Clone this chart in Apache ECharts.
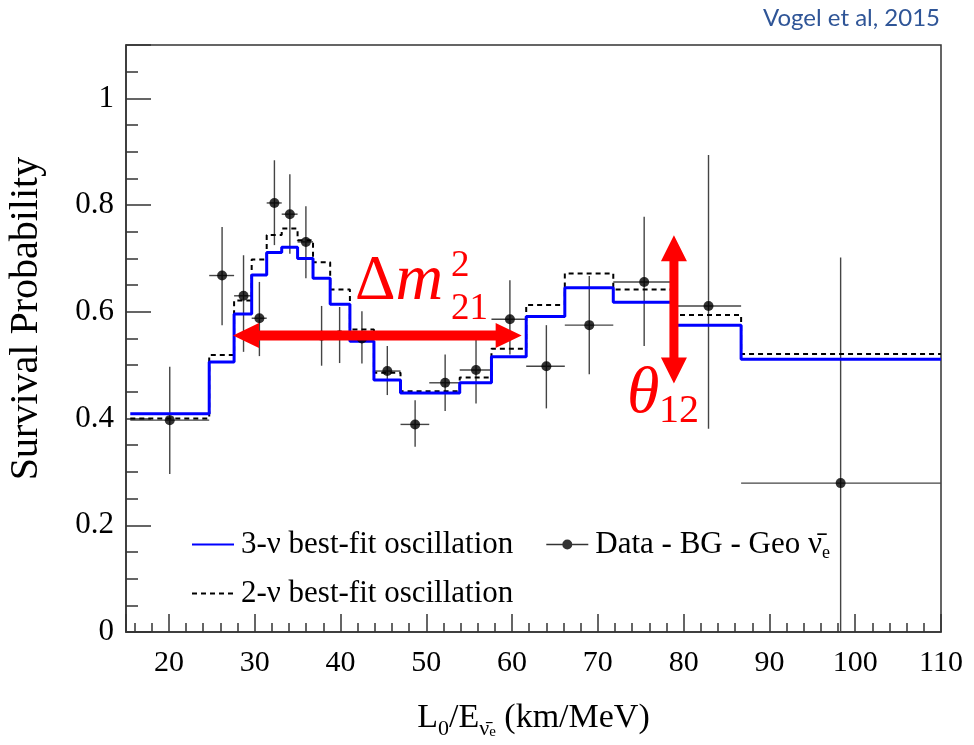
<!DOCTYPE html>
<html><head><meta charset="utf-8">
<script src="https://cdn.jsdelivr.net/npm/echarts@6/dist/echarts.min.js"></script>
<style>html,body{margin:0;padding:0;background:#fff}#c{width:974px;height:745px}</style>
</head><body><div id="c"></div>
<script>
// ---- data ----
const binEdges = [15.5, 24.7, 27.6, 29.65, 31.4, 33.15, 35.0, 36.8, 38.8, 41.1, 43.9, 47.0, 50.35, 53.9, 57.6, 61.65, 66.15, 71.8, 79.0, 86.7, 110];
const fit3nu = [0.409, 0.506, 0.596, 0.669, 0.711, 0.721, 0.700, 0.663, 0.614, 0.545, 0.472, 0.448, 0.448, 0.467, 0.516, 0.591, 0.645, 0.618, 0.575, 0.511];
const fit2nu = [0.400, 0.519, 0.621, 0.698, 0.744, 0.756, 0.734, 0.693, 0.642, 0.567, 0.486, 0.451, 0.451, 0.477, 0.531, 0.613, 0.672, 0.642, 0.594, 0.521];
const dataX = [20.1, 26.2, 28.7, 30.55, 32.3, 34.1, 35.97, 37.8, 39.9, 42.5, 45.46, 48.7, 52.2, 55.8, 59.75, 64.0, 69.0, 75.4, 82.9, 98.3];
const dataY = [0.397, 0.668, 0.630, 0.588, 0.804, 0.783, 0.731, 0.555, 0.556, 0.550, 0.489, 0.389, 0.467, 0.491, 0.586, 0.498, 0.575, 0.656, 0.611, 0.279];
const dataYLow = [0.296, 0.575, 0.525, 0.517, 0.725, 0.709, 0.663, 0.499, 0.504, 0.503, 0.444, 0.347, 0.414, 0.428, 0.520, 0.419, 0.483, 0.536, 0.381, 0.0];
const dataYHigh = [0.497, 0.759, 0.706, 0.656, 0.884, 0.858, 0.798, 0.611, 0.609, 0.601, 0.536, 0.4345, 0.520, 0.548, 0.659, 0.575, 0.667, 0.778, 0.894, 0.702];
const xTickLabels = [20, 30, 40, 50, 60, 70, 80, 90, 100, 110];
const yTickLabels = [0, 0.2, 0.4, 0.6, 0.8, 1];
const NAME3 = '3-ν best-fit oscillation';
const NAME2 = '2-ν best-fit oscillation';
const NAMED = 'Data - BG - Geo ν̄e';
// annotation arrows (data units)
const arrowDm = [[27.47, 0.5554], [61.12, 0.5554]];
const arrowTh = [[78.87, 0.7437], [78.87, 0.4658]];

const FONT = 'Liberation Serif';
function steps(vals) {
  const pts = [];
  vals.forEach((v, i) => { pts.push([binEdges[i], v]); pts.push([binEdges[i + 1], v]); });
  return pts;
}
const errData = dataX.map((x, i) => [x, dataY[i], binEdges[i], binEdges[i + 1], dataYLow[i], dataYHigh[i]]);
const ptData = dataX.map((x, i) => [x, dataY[i]]);

const chart = echarts.init(document.getElementById('c'), null, {renderer: 'canvas'});
const tickCol = '#333';
const LEG_FS = 31;
const option = {
  animation: false,
  backgroundColor: '#fff',
  grid: {left: 126, top: 45, right: 33, bottom: 113, containLabel: false, outerBoundsMode: 'none',
    show: true, borderColor: '#333', borderWidth: 1.5, backgroundColor: 'transparent'},
  xAxis: [{
    type: 'value', min: 15, max: 110, splitNumber: 10, minInterval: 10, maxInterval: 10, position: 'bottom',
    axisLine: {show: true, lineStyle: {color: '#333', width: 1.5}},
    axisTick: {show: true, inside: true, length: 18, lineStyle: {color: tickCol, width: 1.5}},
    axisLabel: {show: true, margin: 16, color: '#000', fontFamily: FONT, fontSize: 30,
      formatter: v => xTickLabels.some(t => Math.abs(t - v) < 1e-6) ? String(v) : ''},
    splitLine: {show: false},
    name: '{m|L}{s0|0}{m|/E}{s1|ν̄}{s2|e}{m| (km/MeV)}', nameLocation: 'middle', nameGap: 64,
    nameTextStyle: {color: '#000', fontFamily: FONT, fontSize: 34,
      rich: {
        m: {fontFamily: FONT, fontSize: 34, lineHeight: 44, color: '#000'},
        s0: {fontFamily: FONT, fontSize: 22, lineHeight: 24, verticalAlign: 'bottom', color: '#000'},
        s1: {fontFamily: FONT, fontSize: 22, lineHeight: 15, verticalAlign: 'bottom', color: '#000'},
        s2: {fontFamily: FONT, fontSize: 15, lineHeight: 4, verticalAlign: 'bottom', color: '#000'}
      }}
  }, {
    type: 'value', min: 15, max: 110, splitNumber: 48, minInterval: 2, maxInterval: 2, position: 'bottom', offset: 0,
    axisLine: {show: false}, axisLabel: {show: false}, splitLine: {show: false},
    axisTick: {show: true, inside: true, length: 9, lineStyle: {color: tickCol, width: 1.5}}
  }],
  yAxis: [{
    type: 'value', min: 0, max: 1.1, interval: 0.2, position: 'left',
    axisLine: {show: true, lineStyle: {color: '#333', width: 1.5}},
    axisTick: {show: true, inside: true, length: 25, lineStyle: {color: tickCol, width: 1.5}},
    axisLabel: {show: true, margin: 12, color: '#000', fontFamily: FONT, fontSize: 31,
      formatter: v => yTickLabels.some(t => Math.abs(t - v) < 1e-6) ? (Math.abs(v) < 1e-6 ? '0' : Math.abs(v - 1) < 1e-6 ? '1' : v.toFixed(1)) : ''},
    splitLine: {show: false},
    name: 'Survival Probability', nameLocation: 'middle', nameGap: 80,
    nameTextStyle: {color: '#000', fontFamily: FONT, fontSize: 40, padding: [0, 0, 0, 40]}
  }, {
    type: 'value', min: 0, max: 1.1, interval: 0.05, position: 'left', offset: 0,
    axisLine: {show: false}, axisLabel: {show: false}, splitLine: {show: false},
    axisTick: {show: true, inside: true, length: 12, lineStyle: {color: tickCol, width: 1.5}}
  }],
  legend: [{
    left: 186, top: 524, itemWidth: 42, itemHeight: 10, itemGap: 33, selectedMode: false,
    data: [{name: NAME3, itemStyle: {opacity: 0}}, {name: NAMED, icon: 'path://M0,4.25 L42,4.25 L42,5.75 L0,5.75 Z M21,0 A5,5 0 1,1 21,10 A5,5 0 1,1 21,0 Z'}],
    formatter: n => n === NAMED ? 'Data - BG - Geo {n|ν̄}{e|e}' : n,
    textStyle: {color: '#000', fontFamily: FONT, fontSize: LEG_FS, padding: [0, 0, 0, 2],
      rich: {
        n: {fontFamily: FONT, fontSize: LEG_FS, color: '#000', lineHeight: 36},
        e: {fontFamily: FONT, fontSize: 18, color: '#000', lineHeight: 12, verticalAlign: 'bottom'}
      }}
  }, {
    left: 186, top: 573, itemWidth: 42, itemHeight: 10, itemGap: 33, selectedMode: false,
    data: [{name: NAME2, itemStyle: {opacity: 0}}],
    textStyle: {color: '#000', fontFamily: FONT, fontSize: LEG_FS, padding: [0, 0, 0, 2]}
  }],
  series: [{
    type: 'custom', name: 'errors', xAxisIndex: 0, yAxisIndex: 0, z: 2, clip: true,
    encode: {x: 0, y: 1},
    renderItem: (params, api) => {
      const x = api.value(0), y = api.value(1);
      const p = api.coord([x, y]);
      const xl = api.coord([api.value(2), y]);
      const xh = api.coord([api.value(3), y]);
      const yl = api.coord([x, api.value(4)]);
      const yh = api.coord([x, api.value(5)]);
      const st = {stroke: '#444', lineWidth: 1.4};
      return {type: 'group', children: [
        {type: 'line', shape: {x1: xl[0], y1: p[1], x2: xh[0], y2: p[1]}, style: st},
        {type: 'line', shape: {x1: p[0], y1: yl[1], x2: p[0], y2: yh[1]}, style: st}
      ]};
    },
    data: errData
  }, {
    type: 'line', name: NAME2, xAxisIndex: 0, yAxisIndex: 0, z: 3, data: steps(fit2nu),
    symbol: 'none', color: '#000', lineStyle: {color: '#000', width: 2, type: [5, 4]}
  }, {
    type: 'line', name: NAME3, xAxisIndex: 0, yAxisIndex: 0, z: 4, data: steps(fit3nu),
    symbol: 'none', color: '#0000ff', lineStyle: {color: '#0000ff', width: 3}
  }, {
    type: 'scatter', name: NAMED, xAxisIndex: 0, yAxisIndex: 0, z: 5, data: ptData,
    symbol: 'circle', symbolSize: 10, itemStyle: {color: '#000'}
  }]
};
chart.setOption(option);

function arrowPoly(a, b, t, L, W) {
  const p1 = chart.convertToPixel({gridIndex: 0}, a);
  const p2 = chart.convertToPixel({gridIndex: 0}, b);
  const dx = p2[0] - p1[0], dy = p2[1] - p1[1];
  const len = Math.hypot(dx, dy);
  const u = [dx / len, dy / len], n = [-u[1], u[0]];
  const P = (base, al, nl) => [base[0] + u[0] * al + n[0] * nl, base[1] + u[1] * al + n[1] * nl];
  return [p1, P(p1, L, W), P(p1, L, t), P(p2, -L, t), P(p2, -L, W), p2, P(p2, -L, -W), P(p2, -L, -t), P(p1, L, -t), P(p1, L, -W)];
}
const RED = '#ff0000';
chart.setOption({
  graphic: [
    {type: 'polygon', z: 100, shape: {points: arrowPoly(arrowDm[0], arrowDm[1], 5, 26, 12.5)}, style: {fill: RED}},
    {type: 'polygon', z: 100, shape: {points: arrowPoly(arrowTh[0], arrowTh[1], 4.5, 26, 13)}, style: {fill: RED}},
    {type: 'text', z: 101, x: 355, y: 282, style: {text: '{d|Δ}{m|m}', verticalAlign: 'middle', align: 'left',
      rich: {d: {fontFamily: FONT, fontSize: 63, fill: RED}, m: {fontFamily: FONT, fontStyle: 'italic', fontSize: 66, fill: RED}}}},
    {type: 'text', z: 101, x: 451, y: 266, style: {text: '2', fontFamily: FONT, fontSize: 37, fill: RED, verticalAlign: 'middle', align: 'left'}},
    {type: 'text', z: 101, x: 451, y: 309, style: {text: '21', fontFamily: FONT, fontSize: 37, fill: RED, verticalAlign: 'middle', align: 'left'}},
    {type: 'text', z: 101, x: 627, y: 395, style: {text: 'θ', fontFamily: FONT, fontStyle: 'italic', fontSize: 66, fill: RED, verticalAlign: 'middle', align: 'left'}},
    {type: 'text', z: 101, x: 659, y: 411, style: {text: '12', fontFamily: FONT, fontSize: 40, fill: RED, verticalAlign: 'middle', align: 'left'}},
    {type: 'text', z: 101, x: 940, y: 18, style: {text: 'Vogel et al, 2015', fontFamily: 'Lato', fontSize: 24, fill: '#2f5597', verticalAlign: 'middle', align: 'right'}}
  ]
});
</script>
</body></html>
